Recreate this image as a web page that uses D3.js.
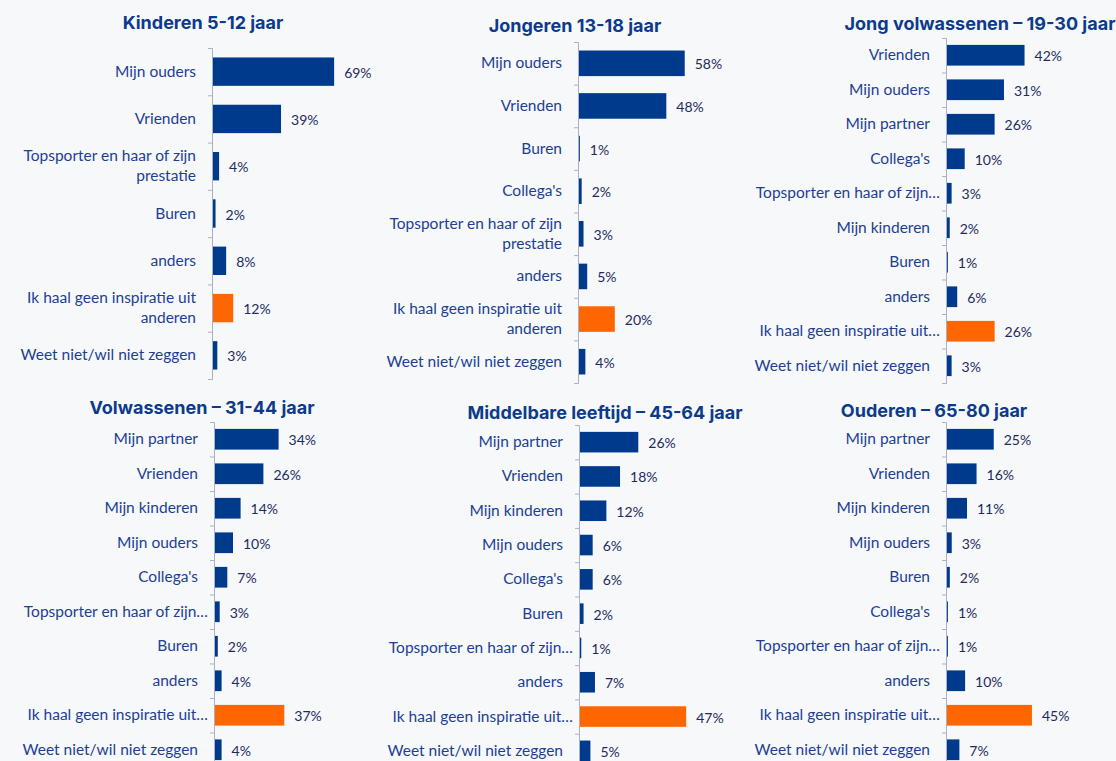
<!DOCTYPE html>
<html>
<head>
<meta charset="utf-8">
<script src="https://cdn.jsdelivr.net/npm/d3@7"></script>
<style>
  body { margin: 0; background: #f7f8fa; }
  svg { display: block; background: #f7f8fa; }
  .title { font-family: Inter, "Open Sans", sans-serif; font-weight: 700; font-size: 18px; fill: #0d3a8a; }
  .cat { font-family: Lato, "Open Sans", sans-serif; font-size: 15.5px; fill: #1c3f94; }
  .val { font-family: Lato, "Open Sans", sans-serif; font-size: 14px; fill: #1e2b5e; }
  .axis path, .axis line { stroke: #a9b1c3; }
</style>
</head>
<body>
<svg id="chart"></svg>
<script>
//Data per age group
const titles = [
  "Kinderen 5-12 jaar",
  "Jongeren 13-18 jaar",
  "Jong volwassenen \u2013 19-30 jaar",
  "Volwassenen \u2013 31-44 jaar",
  "Middelbare leeftijd \u2013 45-64 jaar",
  "Ouderen \u2013 65-80 jaar"
];

const catsKinderen = ["Mijn ouders", "Vrienden", "Topsporter en haar of zijn prestatie", "Buren", "anders", "Ik haal geen inspiratie uit anderen", "Weet niet/wil niet zeggen"];
const valsKinderen = [69, 39, 4, 2, 8, 12, 3];

const catsJongeren = ["Mijn ouders", "Vrienden", "Buren", "Collega's", "Topsporter en haar of zijn prestatie", "anders", "Ik haal geen inspiratie uit anderen", "Weet niet/wil niet zeggen"];
const valsJongeren = [58, 48, 1, 2, 3, 5, 20, 4];

const catsJongVolw = ["Vrienden", "Mijn ouders", "Mijn partner", "Collega's", "Topsporter en haar of zijn prestatie", "Mijn kinderen", "Buren", "anders", "Ik haal geen inspiratie uit anderen", "Weet niet/wil niet zeggen"];
const valsJongVolw = [42, 31, 26, 10, 3, 2, 1, 6, 26, 3];

const catsVolw = ["Mijn partner", "Vrienden", "Mijn kinderen", "Mijn ouders", "Collega's", "Topsporter en haar of zijn prestatie", "Buren", "anders", "Ik haal geen inspiratie uit anderen", "Weet niet/wil niet zeggen"];
const valsVolw = [34, 26, 14, 10, 7, 3, 2, 4, 37, 4];

const catsMiddel = ["Mijn partner", "Vrienden", "Mijn kinderen", "Mijn ouders", "Collega's", "Buren", "Topsporter en haar of zijn prestatie", "anders", "Ik haal geen inspiratie uit anderen", "Weet niet/wil niet zeggen"];
const valsMiddel = [26, 18, 12, 6, 6, 2, 1, 7, 47, 5];

const catsOuderen = ["Mijn partner", "Vrienden", "Mijn kinderen", "Mijn ouders", "Buren", "Collega's", "Topsporter en haar of zijn prestatie", "anders", "Ik haal geen inspiratie uit anderen", "Weet niet/wil niet zeggen"];
const valsOuderen = [25, 16, 11, 3, 2, 1, 1, 10, 45, 7];

const highlight = "Ik haal geen inspiratie uit anderen";

const w = 1116;
const h = 761;
const svg = d3.select("#chart").attr("width", w).attr("height", h);

//Panel layout
const panels = [
  {cats: catsKinderen, vals: valsKinderen, tx: 203, ty: 29, ax: 212, top: 48, bottom: 379, full: 177, wrap: true},
  {cats: catsJongeren, vals: valsJongeren, tx: 575, ty: 32, ax: 578, top: 42, bottom: 383, full: 184, wrap: true},
  {cats: catsJongVolw, vals: valsJongVolw, tx: 980, ty: 30, ax: 946, top: 38, bottom: 383, full: 187, wrap: false},
  {cats: catsVolw, vals: valsVolw, tx: 202, ty: 414, ax: 214, top: 422, bottom: 767, full: 190, wrap: false},
  {cats: catsMiddel, vals: valsMiddel, tx: 605, ty: 419, ax: 579, top: 425, bottom: 768, full: 228, wrap: false},
  {cats: catsOuderen, vals: valsOuderen, tx: 934, ty: 417, ax: 946, top: 422, bottom: 767, full: 191, wrap: false}
];

const labelMax = 186;

panels.forEach((p, i) => {
  const g = svg.append("g");
  const n = p.cats.length;

  const y = d3.scaleBand()
              .domain(p.cats)
              .range([p.top, p.bottom])
              .paddingInner(0.4)
              .paddingOuter(0.2);
  const x = d3.scaleLinear()
              .domain([0, 100])
              .range([p.ax, p.ax + p.full]);
  //category boundaries for tick marks
  const yEdge = d3.scaleLinear().domain([0, n]).range([p.top, p.bottom]);

  g.append("text")
   .classed("title", true)
   .attr("x", p.tx)
   .attr("y", p.ty)
   .attr("text-anchor", "middle")
   .text(titles[i]);

  g.selectAll(".bar")
   .data(p.cats)
   .enter()
   .append("rect")
   .attr("x", x(0))
   .attr("y", (d) => y(d))
   .attr("width", (d, j) => x(p.vals[j]) - x(0))
   .attr("height", y.bandwidth())
   .attr("fill", (d) => d === highlight ? "#ff6600" : "#003a8c");

  g.selectAll(".val")
   .data(p.cats)
   .enter()
   .append("text")
   .classed("val", true)
   .attr("x", (d, j) => x(p.vals[j]) + 10)
   .attr("y", (d) => y(d) + y.bandwidth() / 2 + 6)
   .text((d, j) => p.vals[j] + "%");

  g.append("g")
   .classed("axis", true)
   .attr("transform", "translate(" + p.ax + ",0)")
   .call(d3.axisLeft(yEdge).ticks(n).tickSizeInner(4).tickSizeOuter(4).tickFormat(""));

  //category labels, wrapped or cut with an ellipsis
  p.cats.forEach((c) => {
    const cy = y(c) + y.bandwidth() / 2;
    const t = g.append("text")
               .classed("cat", true)
               .attr("x", p.ax - 16)
               .attr("text-anchor", "end");
    if (p.wrap) {
      const words = c.split(" ");
      const lines = [];
      let line = [];
      const probe = t.append("tspan");
      words.forEach((wd) => {
        line.push(wd);
        probe.text(line.join(" "));
        if (probe.node().getComputedTextLength() > labelMax && line.length > 1) {
          line.pop();
          lines.push(line.join(" "));
          line = [wd];
        }
      });
      lines.push(line.join(" "));
      probe.remove();
      const lh = 20;
      lines.forEach((l, k) => {
        t.append("tspan")
         .attr("x", p.ax - 16)
         .attr("y", cy + 5 - (lines.length - 1) * lh / 2 + k * lh)
         .text(l);
      });
    } else {
      t.attr("y", cy + 5).text(c);
      if (t.node().getComputedTextLength() > labelMax) {
        const words = c.split(" ");
        while (words.length > 1) {
          words.pop();
          t.text(words.join(" ") + "\u2026");
          if (t.node().getComputedTextLength() <= labelMax + 14) break;
        }
        t.attr("x", p.ax - 6);
      }
    }
  });
});
</script>
</body>
</html>
